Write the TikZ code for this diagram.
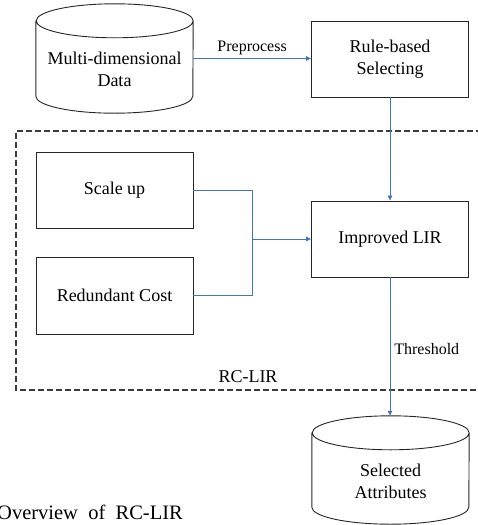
\documentclass[tikz,border=0pt]{standalone}
\usepackage{fontspec}
\setmainfont{Liberation Serif}
\usetikzlibrary{arrows.meta,positioning}
\definecolor{linkblue}{RGB}{68,114,196}
\definecolor{framegray}{RGB}{60,60,60}

% drum outline round an empty node: #1 node, #2 half width, #3 ellipse radius
\newcommand\drawdrum[3]{%
  \draw[boxline] ([yshift=-#3]#1.north west) -- ([yshift=#3]#1.south west)
    arc[start angle=180,end angle=360,x radius=#2,y radius=#3]
    -- ([yshift=-#3]#1.north east)
    arc[start angle=0,end angle=360,x radius=#2,y radius=#3];}

\begin{document}
\begin{tikzpicture}[x=1pt,y=-1pt,
    boxline/.style={draw=black!85,line width=0.9pt},
    stepbox/.style={boxline,minimum width=157pt,minimum height=76pt,inner sep=0pt,
      align=center,font=\fontsize{18}{22}\selectfont},
    drum/.style={minimum width=157pt,minimum height=109pt,inner sep=0pt},
    drumtext/.style={align=center,font=\fontsize{18}{22}\selectfont},
    link/.style={draw=linkblue,line width=0.7pt},
    arrowlink/.style={link,-{Triangle[length=5pt,width=4.5pt]}},
    linklabel/.style={font=\fontsize{16}{19}\selectfont,inner sep=2pt}]
  \useasboundingbox (0,0) rectangle (477,525);
  % data store and first step
  \node[drum] (data) at (114.5,58.5) {};
  \drawdrum{data}{78.5pt}{17pt}
  \node[drumtext] (datatext) at ([yshift=-10.5pt]data.center) {Multi-dimensional\\Data};
  \node[stepbox] (rule) at (390,59) {Rule-based\\Selecting};
  % RC-LIR frame
  \draw[draw=framegray,line width=1.1pt,dash pattern=on 6pt off 3pt]
    (482,131) -- (16,131) -- (16,390) -- (482,390);
  \node[font=\fontsize{18}{22}\selectfont] (frametitle) at (248,377) {RC-LIR};
  \node[stepbox] (scale) at (114.5,190) {Scale up};
  \node[stepbox,minimum height=77pt] (cost) at (114.5,295.5) {Redundant Cost};
  \node[stepbox] (lir) at (390,239) {Improved LIR};
  \coordinate (joint) at (252,239);
  % output store
  \node[drum,minimum height=108pt] (attr) at (390.5,470) {};
  \drawdrum{attr}{78.5pt}{17pt}
  \node[drumtext] (attrtext) at ([yshift=-11pt]attr.center) {Selected\\Attributes};
  % connectors
  \draw[arrowlink] (data.east) -- node[linklabel,above=1pt] {Preprocess} (data.east -| rule.west);
  \draw[arrowlink] (rule.south) -- (lir.north);
  \draw[link] (scale.east) -| (joint);
  \draw[link] (cost.east) -| (joint);
  \draw[arrowlink] (joint) -- (lir.west);
  \draw[arrowlink] (lir.south) -- node[linklabel,right=2pt,pos=0.52] {Threshold} (lir.south |- attr.north);
  % caption, cut at the left edge
  \node[anchor=base west,inner sep=0pt,font=\fontsize{20.5}{24}\selectfont] (caption) at (-3,519) {Overview\ \ of\ \ RC-LIR};
\end{tikzpicture}
\end{document}
